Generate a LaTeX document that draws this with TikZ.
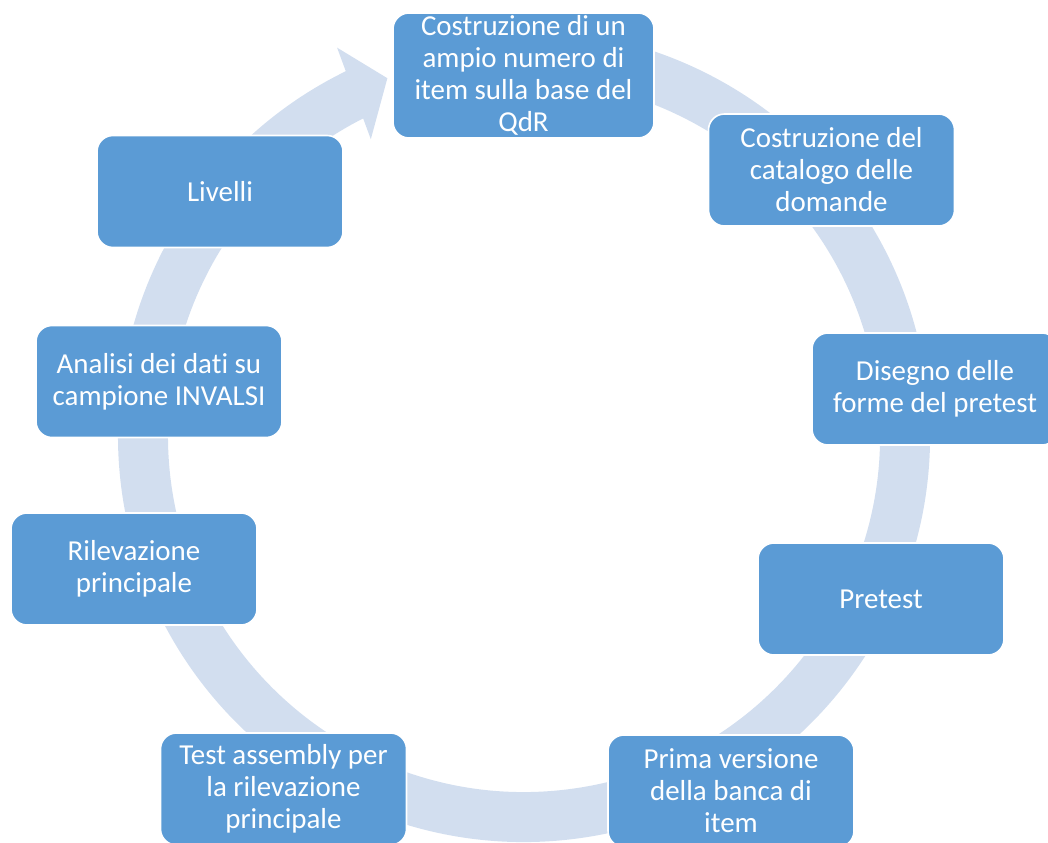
\documentclass[tikz,border=0pt]{standalone}
\usepackage{fontspec}
\setmainfont{Carlito}[Ligatures={NoCommon}]
\usetikzlibrary{calc}
\definecolor{boxblue}{HTML}{5B9BD5}
\definecolor{ringblue}{HTML}{D2DEEF}
\begin{document}
\begin{tikzpicture}[x=0.75pt,y=-0.75pt,
  stage/.style={draw=white, line width=1.2pt, fill=boxblue, rounded corners=12pt,
    text=white, align=center, inner sep=0pt,
    font=\fontsize{21.7}{24}\selectfont,
    minimum width=184.5pt, minimum height=84pt},
  ring/.style={draw=ringblue, line width=37.5pt},
  ringhead/.style={fill=ringblue}]
\useasboundingbox (0,0) rectangle (1048,842);
\clip (0,0) rectangle (1048,842);
\coordinate (c) at (524,436);
% circular arrow
\draw[ring] ($(c)+(-100:381)$) arc[start angle=-100, end angle=244.5, radius=381];
\fill[ringhead] ($(c)+(-115.7:431)$) -- ($(c)+(-110.9:383)$) -- ($(c)+(-117.3:334)$) -- cycle;
% stages
\node[stage, minimum width=195.75pt, minimum height=93.75pt] (s1) at (523.5,75.5)
  {Costruzione di un\\ampio numero di\\item sulla base del\\QdR};
\node[stage] (s2) at (831.5,170) {Costruzione del\\catalogo delle\\domande};
\node[stage] (s3) at (935,389) {Disegno delle\\forme del pretest};
\node[stage] (s4) at (881,599) {Pretest};
\node[stage] (s5) at (731,791) {Prima versione\\della banca di\\item};
\node[stage] (s6) at (283.5,789) {Test assembly per\\la rilevazione\\principale};
\node[stage] (s7) at (134,569) {Rilevazione\\principale};
\node[stage] (s8) at (159,381.5) {Analisi dei dati su\\campione INVALSI};
\node[stage] (s9) at (220,191.5) {Livelli};
\end{tikzpicture}
\end{document}
